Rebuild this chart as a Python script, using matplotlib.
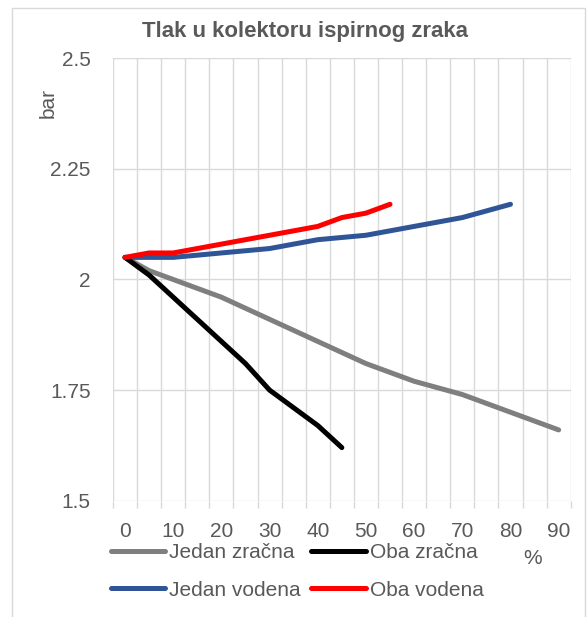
import matplotlib
matplotlib.use("Agg")
import matplotlib.pyplot as plt
from matplotlib.patches import Rectangle

plt.rcParams['font.family'] = ['Liberation Sans', 'DejaVu Sans']

# x categories in %, step 5
x_all = [0, 5, 10, 15, 20, 25, 30, 35, 40, 45, 50, 55, 60, 65, 70, 75, 80, 85, 90]

jedan_zracna = [2.05, 2.02, 2.00, 1.98, 1.96, 1.935, 1.91, 1.885, 1.86, 1.835,
                1.81, 1.79, 1.77, 1.755, 1.74, 1.72, 1.70, 1.68, 1.66]
oba_zracna = [2.05, 2.01, 1.96, 1.91, 1.86, 1.81, 1.75, 1.71, 1.67, 1.62]
jedan_vodena = [2.05, 2.05, 2.05, 2.055, 2.06, 2.065, 2.07, 2.08, 2.09, 2.095,
                2.10, 2.11, 2.12, 2.13, 2.14, 2.155, 2.17]
oba_vodena = [2.05, 2.06, 2.06, 2.07, 2.08, 2.09, 2.10, 2.11, 2.12, 2.14, 2.15, 2.17]

x_labels = ['0', '10', '20', '30', '40', '50', '60', '70', '80', '90']
y_ticks = [1.5, 1.75, 2.0, 2.25, 2.5]
y_labels = ['1.5', '1.75', '2', '2.25', '2.5']

txt = '#595959'
grid = '#d9d9d9'

W, H = 587, 617
fig = plt.figure(figsize=(W / 100, H / 100), dpi=100)
ax = fig.add_axes([113 / W, 1 - 500.7 / H, (570.7 - 113) / W, (500.7 - 58.3) / H])

series = [
    ('Jedan zračna', jedan_zracna, '#7f7f7f'),
    ('Jedan vodena', jedan_vodena, '#2f5597'),
    ('Oba zračna', oba_zracna, '#000000'),
    ('Oba vodena', oba_vodena, '#ff0000'),
]
for name, vals, col in series:
    ax.plot(x_all[:len(vals)], vals, color=col, lw=3.6, label=name,
            solid_capstyle='round', solid_joinstyle='round', zorder=3)

# category boundaries -> gridlines / tick marks
bounds = [v - 2.5 for v in x_all] + [x_all[-1] + 2.5]
ax.set_xlim(bounds[0], bounds[-1])
ax.set_ylim(1.5, 2.5)
ax.set_xticks(bounds)
ax.set_xticklabels([])
ax.set_xticks(x_all[::2], x_labels, minor=True)
ax.set_yticks(y_ticks, y_labels)

ax.tick_params(axis='x', which='major', length=5, width=1, color=grid)
ax.tick_params(axis='x', which='minor', length=0, pad=15, labelsize=15, labelcolor=txt)
ax.tick_params(axis='y', length=0, pad=16, labelsize=15, labelcolor=txt)
ax.grid(True, which='major', color=grid, lw=1, zorder=0)
for s in ax.spines.values():
    s.set_visible(False)

fig.text(305 / W, 1 - 31 / H, 'Tlak u kolektoru ispirnog zraka', ha='center', va='center',
         fontsize=16, fontweight='bold', color=txt)
fig.text(48 / W, 1 - 103 / H, 'bar', rotation=90, ha='center', va='center',
         fontsize=15, color=txt)
fig.text(533 / W, 1 - 559 / H, '%', ha='center', va='center', fontsize=15, color=txt)

fig.legend(loc='upper left', bbox_to_anchor=(111 / W, 1 - 543 / H), ncol=2, frameon=False,
           fontsize=15, labelcolor=txt, handlelength=2.6, handletextpad=0.2,
           columnspacing=0.5, labelspacing=0.9, borderpad=0, borderaxespad=0)

fig.patches.append(Rectangle((12 / W, -0.1), (585 - 12) / W, 1.1 - 8 / H,
                             transform=fig.transFigure, fill=False, edgecolor=grid, lw=1))

fig.savefig('out.png', dpi=100)
